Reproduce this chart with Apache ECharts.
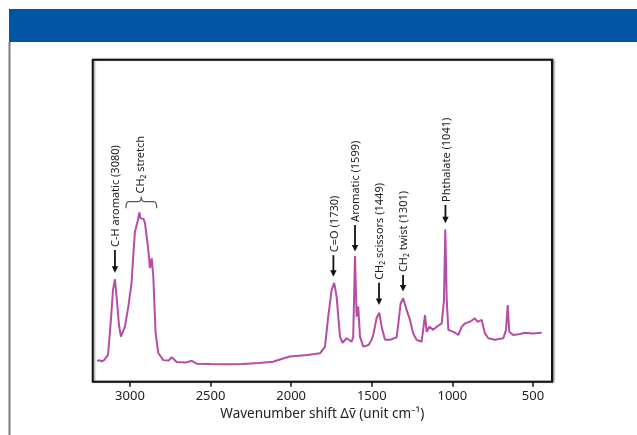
<!DOCTYPE html>
<html>
<head>
<meta charset="utf-8">
<script src="https://cdn.jsdelivr.net/npm/echarts@6/dist/echarts.min.js"></script>
<style>
html,body{margin:0;padding:0;background:#fff;}
#chart{width:637px;height:435px;}
</style>
</head>
<body>
<div id="chart"></div>
<script>
// Wavenumber (cm^-1) and relative Raman intensity
const wavenumbers = [3203,3190,3175,3160,3136,3118,3105,3093,3081,3068,3056,3031,3010,2990,2980,2969,2958,2950,2942,2935,2927,2915,2907,2895,2886,2876,2865,2855,2848,2841,2824,2793,2760,2741,2710,2650,2617,2586,2500,2400,2300,2200,2113,2050,2008,1900,1821,1790,1770,1749,1733,1718,1697,1681,1656,1625,1615,1604,1594,1584,1573,1553,1520,1501,1491,1470,1453,1439,1418,1387,1346,1335,1321,1305,1284,1263,1243,1222,1191,1181,1170,1159,1143,1119,1097,1066,1052,1044,1035,1025,1015,990,963,942,922,891,860,845,818,798,777,736,684,667,657,647,623,580,550,540,500,446];
const intensities = [6.4,6.7,6.3,6.7,8.3,19.2,28.5,31.8,25.4,17.6,14.0,17.1,23.3,30.7,38.7,46.6,47.1,50.2,52.6,50.8,50.2,50.5,49.3,44.6,40.9,35.3,38.4,32.6,23.8,15.1,8.9,6.7,6.6,7.6,6.1,6.0,6.5,5.6,5.5,5.4,5.5,5.8,6.2,7.2,7.8,8.3,8.8,10.9,20.2,28.5,30.7,26.4,14.0,12.1,13.5,12.4,14.0,39.0,20.2,23.3,14.0,10.9,11.4,13.0,14.5,19.8,21.4,17.1,13.0,13.0,13.8,18.1,24.3,25.9,22.3,19.2,15.0,13.0,12.4,16.1,20.7,15.5,17.1,16.1,17.1,18.1,25.4,47.3,25.4,16.1,15.5,15.4,14.5,17.1,18.1,18.6,19.7,18.6,19.2,15.0,13.5,13.0,13.5,16.1,23.8,15.5,14.5,14.8,15.2,15.5,15.0,15.2];

const tickValues = [3000, 2500, 2000, 1500, 1000, 500];

// Peak annotations: label, wavenumber, arrow tip intensity, arrow tail intensity
const peakLabels = ['C-H aromatic (3080)', 'C=O (1730)', 'Aromatic (1599)', 'CH\u2082 scissors (1449)', 'CH\u2082 twist (1301)', 'Phthalate (1041)'];
const peakPositions = [3093, 1738, 1604, 1455, 1306, 1043];
const peakTips = [33.8, 32.6, 40.4, 23.8, 28.0, 49.2];
const peakTails = [40.9, 39.3, 48.7, 30.7, 33.1, 54.9];

// Brace annotation: label, start/end wavenumber, brace ends & middle intensity
const braceLabel = 'CH\u2082 stretch';
const braceRange = [3025, 2834];
const braceLevels = [53.9, 57.5];

const lineData = wavenumbers.map((w, i) => [w, intensities[i]]);
const peakData = peakLabels.map((l, i) => [peakPositions[i], peakTips[i], peakTails[i], l]);
const braceData = [[braceRange[0], braceRange[1], braceLevels[0], braceLevels[1], braceLabel]];

const FONT = 'Noto Sans';
const chart = echarts.init(document.getElementById('chart'), null, {renderer: 'canvas'});

chart.setOption({
  animation: false,
  backgroundColor: '#fff',
  graphic: [
    {type: 'rect', left: 9, top: 9, shape: {width: 628, height: 33}, style: {fill: '#0055a4'}, z: 10},
    {type: 'rect', left: 8.5, top: 42, shape: {width: 2, height: 393}, style: {fill: '#7a7a7a'}, z: 10}
  ],
  grid: {
    left: 92.7, right: 85, top: 59.7, bottom: 53.3,
    show: true, borderColor: '#111', borderWidth: 2, backgroundColor: '#fff',
    shadowColor: 'rgba(0,0,0,0.35)', shadowBlur: 1.5, shadowOffsetX: 1.5, shadowOffsetY: 0
  },
  xAxis: {
    type: 'value', inverse: true, min: 382, max: 3231,
    axisLine: {show: false},
    splitLine: {show: false},
    axisTick: {show: true, length: 5, inside: false, customValues: tickValues, lineStyle: {color: '#111', width: 1.5}},
    axisLabel: {customValues: tickValues, margin: 8, fontSize: 13, color: '#222', fontFamily: FONT,
      formatter: function (v) { return String(v); }},
    name: 'Wavenumber shift \u0394\u1E7D (unit cm\u207B\u00B9)',
    nameLocation: 'middle', nameGap: 21,
    nameTextStyle: {fontSize: 13.5, color: '#222', fontFamily: FONT}
  },
  yAxis: {type: 'value', min: 0, max: 100, show: false},
  series: [
    {
      type: 'line', data: lineData, showSymbol: false, smooth: false,
      lineStyle: {color: '#b64ca6', width: 2}, z: 3
    },
    {
      type: 'custom', data: peakData, z: 5, clip: false,
      renderItem: function (params, api) {
        const tip = api.coord([api.value(0), api.value(1)]);
        const tail = api.coord([api.value(0), api.value(2)]);
        const label = peakData[params.dataIndex][3];
        const x = tip[0];
        return {
          type: 'group',
          children: [
            {type: 'line', shape: {x1: x, y1: tail[1], x2: x, y2: tip[1] - 5}, style: {stroke: '#111', lineWidth: 1.8}},
            {type: 'polygon', shape: {points: [[x - 3.2, tip[1] - 6.5], [x + 3.2, tip[1] - 6.5], [x, tip[1]]]}, style: {fill: '#111'}},
            {type: 'text', x: x + 1, y: tail[1] - 3, rotation: Math.PI / 2,
              style: {text: label, fontSize: 11, fontFamily: FONT, fill: '#222', align: 'left', verticalAlign: 'middle'}}
          ]
        };
      }
    },
    {
      type: 'custom', data: braceData, z: 5, clip: false,
      renderItem: function (params, api) {
        const a = api.coord([api.value(0), api.value(2)]);
        const b = api.coord([api.value(1), api.value(2)]);
        const m = api.coord([(api.value(0) + api.value(1)) / 2, api.value(3)]);
        const yEnd = a[1], yMid = m[1];
        const yLine = yEnd - 6.5;
        const xm = m[0];
        const r = 3;
        const path = 'M' + a[0] + ' ' + yEnd +
          ' Q' + a[0] + ' ' + yLine + ' ' + (a[0] + r) + ' ' + yLine +
          ' L' + (xm - r) + ' ' + yLine +
          ' Q' + xm + ' ' + yLine + ' ' + xm + ' ' + yMid +
          ' Q' + xm + ' ' + yLine + ' ' + (xm + r) + ' ' + yLine +
          ' L' + (b[0] - r) + ' ' + yLine +
          ' Q' + b[0] + ' ' + yLine + ' ' + b[0] + ' ' + yEnd;
        return {
          type: 'group',
          children: [
            {type: 'path', shape: {pathData: path}, style: {stroke: '#555', lineWidth: 1.2, fill: null}},
            {type: 'text', x: xm, y: yMid - 3, rotation: Math.PI / 2,
              style: {text: braceData[0][4], fontSize: 11, fontFamily: FONT, fill: '#222', align: 'left', verticalAlign: 'middle'}}
          ]
        };
      }
    }
  ]
});
</script>
</body>
</html>
